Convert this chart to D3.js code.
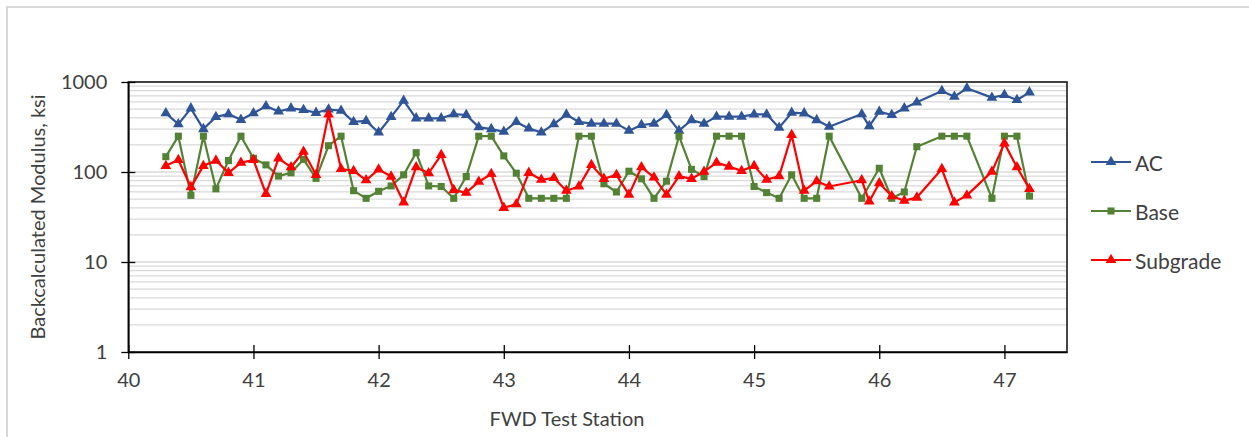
<!DOCTYPE html>
<html><head><meta charset="utf-8">
<script src="https://cdn.jsdelivr.net/npm/d3@7"></script>
<style>body{margin:0;background:#fff}svg{display:block}text{font-family:Lato,"Open Sans",sans-serif;fill:#404040}</style>
</head><body><div id="chart"></div>
<script>
const stations = [40.3,40.4,40.5,40.6,40.7,40.8,40.9,41.0,41.1,41.2,41.3,41.4,41.5,41.6,41.7,41.8,41.9,42.0,42.1,42.2,42.3,42.4,42.5,42.6,42.7,42.8,42.9,43.0,43.1,43.2,43.3,43.4,43.5,43.6,43.7,43.8,43.9,44.0,44.1,44.2,44.3,44.4,44.5,44.6,44.7,44.8,44.9,45.0,45.1,45.2,45.3,45.4,45.5,45.6,45.86,45.92,46.0,46.1,46.2,46.3,46.5,46.6,46.7,46.9,47.0,47.1,47.2];
const acValues = [450,340,510,300,410,440,380,450,540,470,510,490,455,495,480,360,370,275,410,620,395,395,395,440,430,315,300,280,360,305,275,340,435,360,345,345,345,288,333,345,430,288,378,345,412,412,412,437,437,311,456,449,378,319,440,324,468,430,510,594,794,687,851,670,717,631,768];
const baseValues = [148,250,55,250,65,134,250,142,120,90,98,138,85,196,250,62,51,61,70,93,164,70,69,51,89,250,250,151,97,51,51,51,51,250,250,74,60,102,84,51,79,250,107,89,250,250,250,69,59,51,93,51,51,250,51,null,110,51,60,191,250,250,250,51,250,250,54];
const subgradeValues = [117,136,68,117,134,98,127,136,57,142,113,168,93,437,108,103,81,107,89,46,113,97,155,63,59,78,95,40,44,98,82,86,62,69,120,84,93,56,113,87,56,90,84,101,127,115,103,117,82,90,258,62,79,69,81,47,75,54,48,52,108,46,55,101,208,113,65];
const seriesNames = ["AC","Base","Subgrade"];
const xTicks = [40,41,42,43,44,45,46,47];
const yTicks = [1,10,100,1000];

const W=1249,H=437;
const svg=d3.select("#chart").append("svg").attr("width",W).attr("height",H);
svg.append("rect").attr("x",7).attr("y",7).attr("width",1300).attr("height",500).attr("fill","none").attr("stroke","#d9d9d9").attr("stroke-width",2);

const x=d3.scaleLinear().domain([40,47.5]).range([128.3,1067]);
const y=d3.scaleLog().domain([1,1000]).range([352,82]);

// gridlines (major + minor)
const grid=[];
for(let d=1;d<1000;d*=10){for(let k=1;k<10;k++){grid.push(d*k);}}
grid.push(1000);
svg.append("g").selectAll("line").data(grid.filter(v=>v>1)).join("line")
  .attr("x1",x(40)).attr("x2",x(47.5)).attr("y1",d=>y(d)).attr("y2",d=>y(d))
  .attr("stroke","#d9d9d9").attr("stroke-width",1.3);

// plot border
svg.append("rect").attr("x",x(40)).attr("y",y(1000)).attr("width",x(47.5)-x(40)).attr("height",y(1)-y(1000))
  .attr("fill","none").attr("stroke","#1a1a1a").attr("stroke-width",1.6);

// axes
const xAxis=d3.axisBottom(x).tickValues(xTicks).tickFormat(d3.format("d")).tickSizeInner(7).tickSizeOuter(0).tickPadding(14);
const gx=svg.append("g").attr("transform",`translate(0,${y(1)})`).call(xAxis);
gx.select(".domain").attr("stroke","#000").attr("stroke-width",1.6);
gx.selectAll(".tick line").attr("stroke","#000").attr("stroke-width",1.3).attr("y1",-7);
gx.selectAll(".tick text").style("font-size","20px").style("font-family","Lato").attr("fill","#404040");

const yAxis=d3.axisLeft(y).tickValues(yTicks).tickFormat(d3.format("d")).tickSizeInner(7).tickSizeOuter(0).tickPadding(14);
const gy=svg.append("g").attr("transform",`translate(${x(40)},0)`).call(yAxis);
gy.select(".domain").attr("stroke","#000").attr("stroke-width",1.6);
gy.selectAll(".tick line").attr("stroke","#000").attr("stroke-width",1.3).attr("x1",7);
gy.selectAll(".tick text").style("font-size","20px").style("font-family","Lato").attr("fill","#404040");

svg.append("text").attr("transform","translate(37,217) rotate(-90)").attr("text-anchor","middle").attr("dominant-baseline","central")
  .style("font-size","20px").text("Backcalculated Modulus, ksi");
svg.append("text").attr("x",567).attr("y",418).attr("text-anchor","middle").attr("dominant-baseline","central")
  .style("font-size","20px").text("FWD Test Station");

const colors={AC:"#2f5597",Base:"#548235",Subgrade:"#ff0000"};
const data={AC:acValues,Base:baseValues,Subgrade:subgradeValues};
const tri=d3.symbol().type(d3.symbolTriangle).size(50);
const sq=d3.symbol().type(d3.symbolSquare).size(50);

seriesNames.forEach(name=>{
  const pts=stations.map((s,i)=>({s,v:data[name][i]})).filter(d=>d.v!=null);
  const line=d3.line().x(d=>x(d.s)).y(d=>y(d.v));
  svg.append("path").datum(pts).attr("d",line).attr("fill","none").attr("stroke",colors[name]).attr("stroke-width",2.2).attr("stroke-linejoin","round");
  svg.append("g").selectAll("path").data(pts).join("path")
    .attr("d",name==="Base"?sq:tri)
    .attr("transform",d=>`translate(${x(d.s)},${y(d.v)})`)
    .attr("fill",colors[name]);
});

// legend
const legY=[162,211,260];
seriesNames.forEach((name,i)=>{
  const g=svg.append("g").attr("transform",`translate(0,${legY[i]})`);
  g.append("line").attr("x1",1091).attr("x2",1131).attr("y1",0).attr("y2",0).attr("stroke",colors[name]).attr("stroke-width",2.2);
  g.append("path").attr("d",name==="Base"?sq:tri).attr("transform","translate(1111,0)").attr("fill",colors[name]);
  g.append("text").attr("x",1135).attr("y",0).attr("dominant-baseline","central").style("font-size","21px").text(name);
});
</script></body></html>
